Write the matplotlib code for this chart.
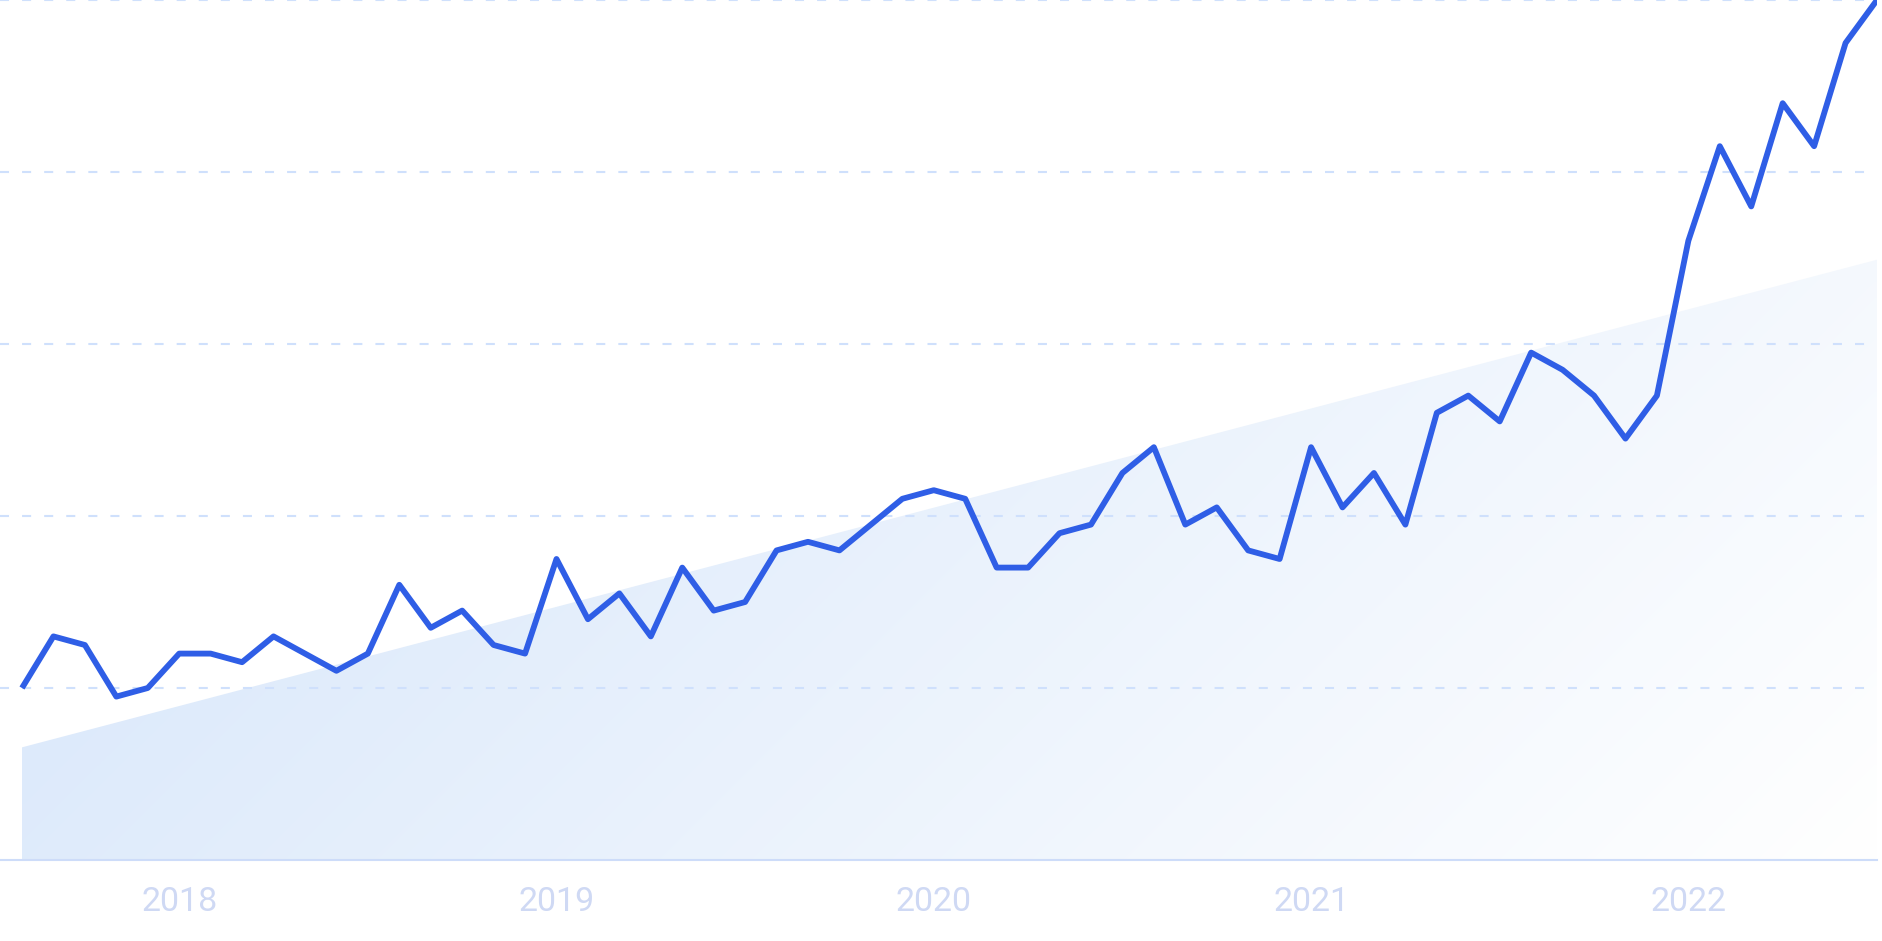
import matplotlib
matplotlib.use("Agg")
import matplotlib.pyplot as plt
import numpy as np
from matplotlib.patches import Polygon

# monthly index values, Aug 2017 .. Jul 2022
values = [20, 26, 25, 19, 20, 24, 24, 23, 26, 24, 22, 24,
          32, 27, 29, 25, 24, 35, 28, 31, 26, 34, 29, 30,
          36, 37, 36, 39, 42, 43, 42, 34, 34, 38, 39, 45,
          48, 39, 41, 36, 35, 48, 41, 45, 39, 52, 54, 51,
          59, 57, 54, 49, 54, 72, 83, 76, 88, 83, 95, 100]
months = np.arange(len(values))

# trend line ends
trend = [13.1, 69.8]

year_pos = [5, 17, 29, 41, 53]
year_labels = ["2018", "2019", "2020", "2021", "2022"]
grid_vals = [20, 40, 60, 80, 100]

plt.rcParams["lines.scale_dashes"] = False
plt.rcParams["font.family"] = ["Roboto", "DejaVu Sans"]

W, H = 1883, 941
fig = plt.figure(figsize=(W / 100, H / 100), dpi=100)
ax = fig.add_axes([0, 81 / H, 1877 / W, 860 / H])
ax.set_xlim(-22 / 31.44, months[-1])
ax.set_ylim(0, 100)

# trend area with diagonal gradient
x0, x1 = months[0], months[-1]
poly = Polygon([[x0, 0], [x0, trend[0]], [x1, trend[1]], [x1, 0]],
               closed=True, facecolor="none", edgecolor="none",
               transform=ax.transData)
ax.add_patch(poly)

nx, ny = 400, 200
gx = np.linspace(x0, x1, nx)
gy = np.linspace(max(trend), 0, ny)
XX, YY = np.meshgrid(gx, gy)
disp = ax.transData.transform(np.column_stack([XX.ravel(), YY.ravel()]))
px = disp[:, 0]
py = H - disp[:, 1]
s = (px + py).reshape(ny, nx)
c_top = ax.transData.transform([x0, trend[0]])
c_br = ax.transData.transform([x1, 0])
smin = c_top[0] + (H - c_top[1])
smax = c_br[0] + (H - c_br[1])
t = np.clip((s - smin) / (smax - smin), 0, 1)[..., None]
c0 = np.array([221, 234, 251]) / 255
c1 = np.array([255, 255, 255]) / 255
img = c0 + (c1 - c0) * t
im = ax.imshow(img, extent=[x0, x1, 0, max(trend)], aspect="auto",
               origin="upper", interpolation="bilinear", zorder=1)
im.set_clip_path(poly)

# grid
ax.set_yticks(grid_vals)
ax.grid(axis="y", color="#cfe0fc", linewidth=1.5, linestyle=(0, (6.5, 9.4)), zorder=1.5)
ax.set_axisbelow(False)
ax.tick_params(axis="y", length=0, labelleft=False)

# main line
ax.plot(months, values, color="#2f5ee6", linewidth=4.2,
        solid_joinstyle="round", solid_capstyle="butt", zorder=3)

# x axis
ax.set_xticks(year_pos)
ax.set_xticklabels(year_labels)
ax.tick_params(axis="x", length=0, pad=19, labelsize=24.5, labelcolor="#cfd9f4")
for side in ["top", "left", "right"]:
    ax.spines[side].set_visible(False)
ax.spines["bottom"].set_color("#cddcf9")
ax.spines["bottom"].set_linewidth(1.5)
ax.spines["bottom"].set_zorder(2)

fig.savefig("out.png", dpi=100, facecolor="white")
